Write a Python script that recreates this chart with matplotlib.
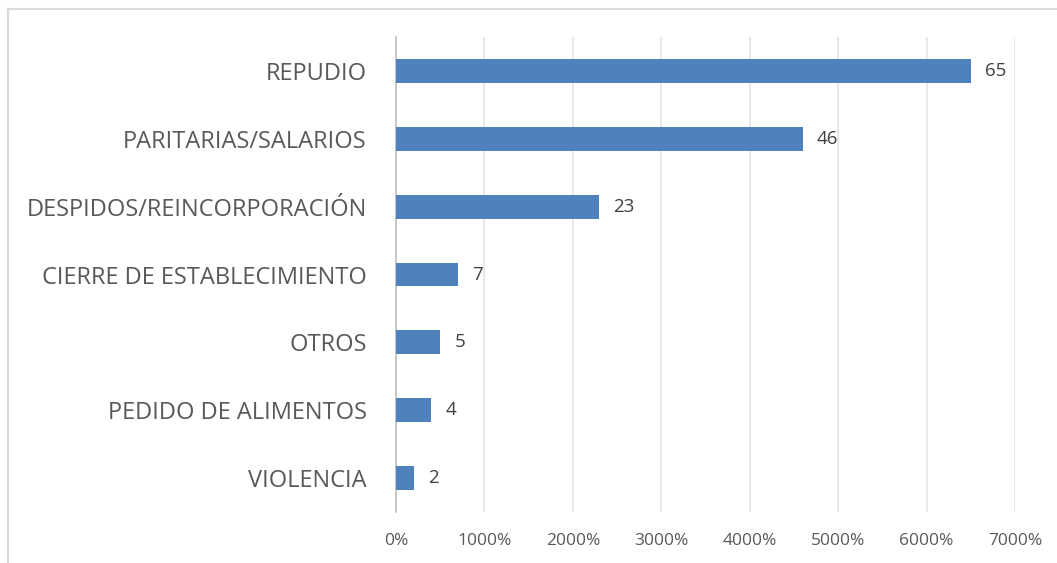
import matplotlib.pyplot as plt
from matplotlib.lines import Line2D
from matplotlib.ticker import FuncFormatter

plt.rcParams['font.family'] = ['Open Sans', 'DejaVu Sans']

# data (top to bottom as shown)
categorias = ['REPUDIO', 'PARITARIAS/SALARIOS', 'DESPIDOS/REINCORPORACIÓN',
              'CIERRE DE ESTABLECIMIENTO', 'OTROS', 'PEDIDO DE ALIMENTOS', 'VIOLENCIA']
valores = [65, 46, 23, 7, 5, 4, 2]
ticks_x = [0, 10, 20, 30, 40, 50, 60, 70]

txt = '#595959'
fig = plt.figure(figsize=(10.57, 5.63), dpi=100)
ax = fig.add_axes([396/1057, 1-512/563, (1015-396)/1057, (512-37)/563])

pos = list(range(len(categorias)))[::-1]
ax.barh(pos, valores, height=0.35, color='#4F81BD', zorder=3)
for p, v in zip(pos, valores):
    ax.text(v + 1.6, p, str(v), va='center', ha='left', fontsize=13.5, color='#404040')

ax.set_xlim(0, 70)
ax.set_ylim(-0.5, 6.5)
ax.set_xticks(ticks_x)
ax.xaxis.set_major_formatter(FuncFormatter(lambda x, _: f'{int(x*100)}%'))
ax.set_yticks(pos)
ax.set_yticklabels(categorias)
ax.tick_params(axis='x', length=0, pad=15, labelsize=12.5, labelcolor=txt)
ax.tick_params(axis='y', length=0, pad=21, labelsize=17, labelcolor=txt)
ax.grid(axis='x', color='#E4E4E4', linewidth=1.2, zorder=0)
for s in ['top', 'right', 'bottom']:
    ax.spines[s].set_visible(False)
ax.spines['left'].set_color('#BFBFBF')
ax.spines['left'].set_linewidth(1.2)

# outer chart frame
fig.add_artist(Line2D([8/1057, 1], [1-9/563, 1-9/563], color='#D9D9D9', lw=1.5))
fig.add_artist(Line2D([8/1057, 8/1057], [0, 1-9/563], color='#D9D9D9', lw=1.5))

fig.savefig('out.png', dpi=100, facecolor='white')
